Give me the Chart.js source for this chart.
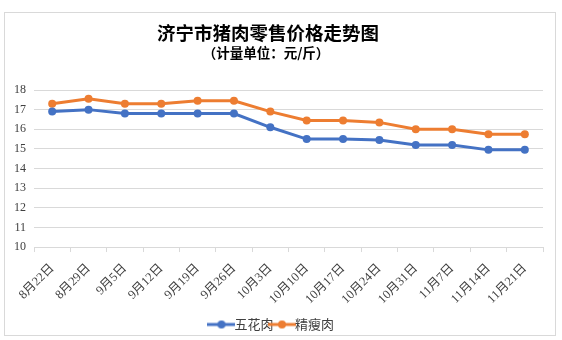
<!DOCTYPE html>
<html>
<head>
<meta charset="utf-8">
<script src="https://cdn.jsdelivr.net/npm/chart.js@4"></script>
<style>
  body { margin: 0; background: #fff; }
  #box { position: absolute; left: 4px; top: 12px; width: 550px; height: 322px; border: 1px solid #d9d9d9; }
  #wrap { position: absolute; left: 5px; top: 13px; width: 550px; height: 328px; }
</style>
</head>
<body>
<div id="box"></div>
<div id="wrap"><canvas id="priceChart"></canvas></div>
<script>
// 日期（横轴）
const dates = ['8月22日', '8月29日', '9月5日', '9月12日', '9月19日', '9月26日', '10月3日',
  '10月10日', '10月17日', '10月24日', '10月31日', '11月7日', '11月14日', '11月21日'];

// 五花肉价格
const wuhuarou = [16.9, 17.0, 16.8, 16.8, 16.8, 16.8, 16.1, 15.5, 15.5, 15.45, 15.2, 15.2, 14.95, 14.95];

// 精瘦肉价格
const jingshourou = [17.3, 17.55, 17.3, 17.3, 17.45, 17.45, 16.9, 16.45, 16.45, 16.35, 16.0, 16.0, 15.75, 15.75];

const yMin = 10;
const yMax = 18;

const chartTitle = '济宁市猪肉零售价格走势图';
const chartSubtitle = '（计量单位：元/斤）';

const blue = '#4472c4';
const orange = '#ed7d31';

const serif = '"Liberation Serif", "Noto Sans CJK SC", serif';
const cjk = '"Noto Sans CJK SC", sans-serif';

// 图例标记：线 + 圆点
function legendMark(color) {
    const c = document.createElement('canvas');
    c.width = 28;
    c.height = 10;
    const ctx = c.getContext('2d');
    ctx.strokeStyle = color;
    ctx.lineWidth = 3;
    ctx.beginPath();
    ctx.moveTo(0, 5);
    ctx.lineTo(28, 5);
    ctx.stroke();
    ctx.fillStyle = color;
    ctx.beginPath();
    ctx.arc(14, 5, 4, 0, Math.PI * 2);
    ctx.fill();
    return c;
}

// 标题略偏左，和原图一致
const titlePlugin = {
    id: 'titleText',
    afterDraw(chart) {
        const ctx = chart.ctx;
        const cx = chart.width / 2 - 12;
        ctx.save();
        ctx.fillStyle = '#000';
        ctx.textAlign = 'center';
        ctx.textBaseline = 'middle';
        ctx.font = 'bold 18.5px ' + cjk;
        ctx.fillText(chartTitle, cx, 20);
        ctx.font = 'bold 13.5px ' + cjk;
        ctx.fillText(chartSubtitle, cx - 2, 40);
        ctx.restore();
    }
};

new Chart(document.getElementById('priceChart'), {
    type: 'line',
    data: {
        labels: dates,
        datasets: [
            {
                label: '五花肉',
                data: wuhuarou,
                borderColor: blue,
                backgroundColor: blue,
                borderWidth: 3,
                pointRadius: 4,
                pointBackgroundColor: blue,
                pointBorderWidth: 0,
                tension: 0
            },
            {
                label: '精瘦肉',
                data: jingshourou,
                borderColor: orange,
                backgroundColor: orange,
                borderWidth: 3,
                pointRadius: 4,
                pointBackgroundColor: orange,
                pointBorderWidth: 0,
                tension: 0
            }
        ]
    },
    options: {
        responsive: true,
        maintainAspectRatio: false,
        animation: false,
        layout: { padding: { left: 1, right: 12, top: 77, bottom: 0 } },
        scales: {
            x: {
                offset: true,
                grid: {
                    offset: true,
                    drawOnChartArea: false,
                    drawTicks: true,
                    tickLength: 5,
                    color: '#d9d9d9'
                },
                border: { color: '#d9d9d9' },
                ticks: {
                    minRotation: 45,
                    maxRotation: 45,
                    autoSkip: false,
                    padding: 9,
                    color: '#404040',
                    font: { family: serif, size: 12.5 }
                }
            },
            y: {
                min: yMin,
                max: yMax,
                grid: { color: '#d9d9d9', drawTicks: false },
                border: { display: false },
                ticks: {
                    stepSize: 1,
                    padding: 8,
                    color: '#404040',
                    font: { family: serif, size: 12 }
                }
            }
        },
        plugins: {
            title: { display: false },
            legend: {
                position: 'bottom',
                labels: {
                    usePointStyle: true,
                    generateLabels: function(chart) {
                        return chart.data.datasets.map((ds, i) => ({
                            text: ds.label,
                            pointStyle: legendMark(ds.borderColor),
                            fillStyle: ds.borderColor,
                            strokeStyle: ds.borderColor,
                            lineWidth: 0,
                            datasetIndex: i,
                            fontColor: '#404040'
                        }));
                    },
                    color: '#404040',
                    boxWidth: 28,
                    padding: 2,
                    font: { family: cjk, size: 13 }
                }
            },
            tooltip: { enabled: false }
        }
    },
    plugins: [titlePlugin]
});
</script>
</body>
</html>
